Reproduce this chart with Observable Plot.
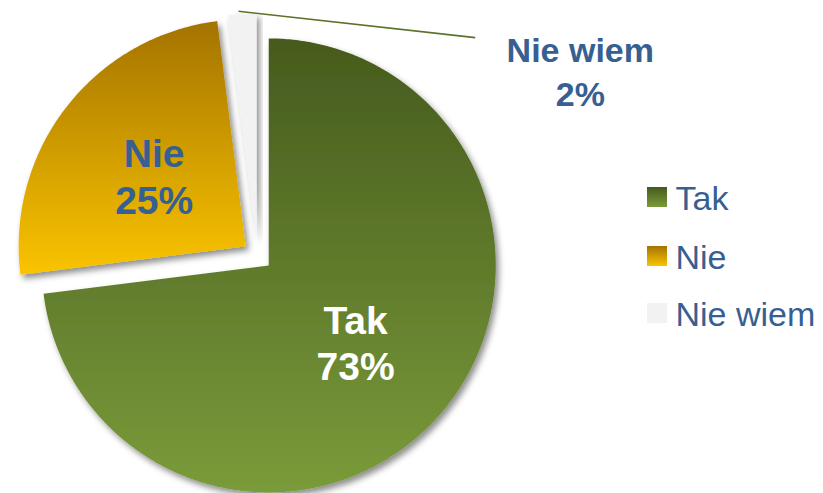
<!DOCTYPE html>
<html><head><meta charset="utf-8">
<script src="https://cdn.jsdelivr.net/npm/d3@7"></script>
<script src="https://cdn.jsdelivr.net/npm/@observablehq/plot@0.6"></script>
<style>body{margin:0;background:#fff;}</style>
</head><body><div id="chart"></div>
<script>
// ---- data ----
const categories = ["Tak", "Nie", "Nie wiem"];
const values = [73, 25, 2];
const percentLabels = ["73%", "25%", "2%"];

// ---- layout & style ----
const W = 823, H = 493;
const CX = 257, CY = 255, R = 227;        // pie centre / radius (px)
const EXPLODE = 15 / R;                   // slice explosion (radius units)
const FONT = "Liberation Sans, Arial, sans-serif";
const BLUE = "#376092";
const sliceFills = ["url(#gTak)", "url(#gNie)", "#f2f2f2"];
const labelFills = ["#ffffff", BLUE, BLUE];
const ux = px => (px - CX) / R;
const uy = py => (CY - py) / R;

const arcs = d3.pie().sort(null).value(d => d)(values);
const slices = arcs.map((p, i) => {
  const mid = (p.startAngle + p.endAngle) / 2;
  const ox = EXPLODE * Math.sin(mid), oy = EXPLODE * Math.cos(mid);
  const pts = [[ox, oy]];
  const n = Math.max(4, Math.ceil((p.endAngle - p.startAngle) / 0.01));
  for (let k = 0; k <= n; k++) {
    const t = p.startAngle + (p.endAngle - p.startAngle) * k / n;
    pts.push([ox + Math.sin(t), oy + Math.cos(t)]);
  }
  pts.push([ox, oy]);
  return {i, mid, ox, oy, pts, small: values[i] < 10};
});

const marks = [];
// slices
slices.forEach(s => {
  marks.push(Plot.line(s.pts, {x: d => d[0], y: d => d[1], fill: sliceFills[s.i], stroke: "none"}));
});
// inside labels
slices.filter(s => !s.small).forEach(s => {
  marks.push(Plot.text([s], {
    x: d => d.ox + 0.51 * Math.sin(d.mid),
    y: d => d.oy + 0.51 * Math.cos(d.mid),
    text: d => categories[d.i] + "\n" + percentLabels[d.i],
    fill: labelFills[s.i], fontSize: 39, fontWeight: "bold", fontFamily: FONT,
    lineAnchor: "middle", lineHeight: 1.2
  }));
});
// outside labels with leader line
slices.filter(s => s.small).forEach(s => {
  const ox = s.ox + Math.sin(s.mid), oy = s.oy + Math.cos(s.mid);
  marks.push(Plot.link([s], {
    x1: () => ox - 0.017, y1: () => oy + 0.012,
    x2: () => ox + 1.026, y2: () => oy - 0.104,
    stroke: "#5b7228", strokeWidth: 1.6
  }));
  marks.push(Plot.text([s], {
    x: () => ox + 1.489, y: () => oy - 0.245,
    text: d => categories[d.i] + "\n" + percentLabels[d.i],
    fill: labelFills[s.i], fontSize: 34, fontWeight: "bold", fontFamily: FONT,
    lineAnchor: "middle", lineHeight: 1.3
  }));
});
// legend
const legendY = [197, 256, 313];
categories.forEach((c, i) => {
  marks.push(Plot.rect([c], {
    x1: () => ux(647), x2: () => ux(667),
    y1: () => uy(legendY[i] - 10), y2: () => uy(legendY[i] + 10),
    fill: sliceFills[i], stroke: "none"
  }));
  marks.push(Plot.text([c], {
    x: () => ux(675), y: () => uy(legendY[i] + 2),
    text: d => d, textAnchor: "start", lineAnchor: "middle",
    fill: BLUE, fontSize: 34, fontFamily: FONT
  }));
});

const svg = Plot.plot({
  width: W, height: H,
  marginTop: 0, marginRight: 0, marginBottom: 0, marginLeft: 0,
  x: {domain: [ux(0), ux(W)], axis: null},
  y: {domain: [uy(H), uy(0)], axis: null},
  style: {fontFamily: FONT, background: "#fff", overflow: "visible"},
  marks
});

const defs = d3.select(svg).insert("defs", ":first-child");
const grad = (id, top, bottom) => {
  const g = defs.append("linearGradient").attr("id", id)
    .attr("x1", 0).attr("y1", 0).attr("x2", 0).attr("y2", 1);
  g.append("stop").attr("offset", "0%").attr("stop-color", top);
  g.append("stop").attr("offset", "100%").attr("stop-color", bottom);
};
grad("gTak", "#465a1d", "#7a9b3a");
grad("gNie", "#a47300", "#fac400");
defs.append("filter").attr("id", "shadow")
  .attr("x", "-10%").attr("y", "-10%").attr("width", "130%").attr("height", "130%")
  .append("feDropShadow").attr("dx", 3).attr("dy", 4).attr("stdDeviation", 3)
  .attr("flood-color", "#000").attr("flood-opacity", 0.45);
d3.select(svg).selectAll('g[aria-label="line"]').attr("filter", "url(#shadow)");

document.getElementById("chart").appendChild(svg);
</script>
</body></html>
